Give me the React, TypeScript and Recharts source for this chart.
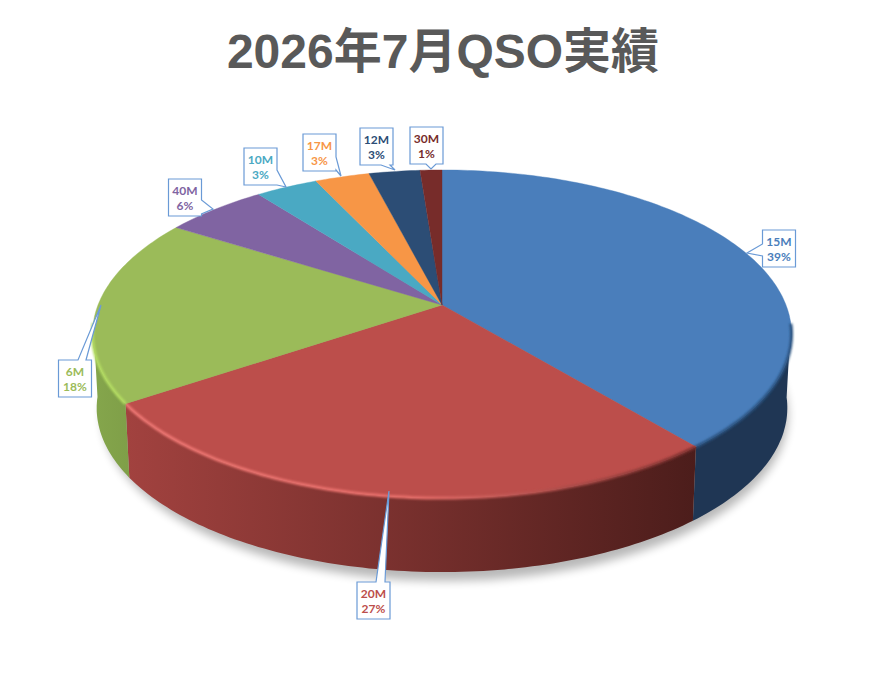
import React from "react";
import { PieChart, Pie } from "recharts";

// band names and share of QSOs (%), labels round these
const bands = ["15M", "20M", "6M", "40M", "10M", "17M", "12M", "30M"];
const shares = [39, 26.55, 18.4, 5.65, 3.4, 3.0, 2.8, 1.2];

const topColors = ["#4a7ebb", "#bc4e4b", "#9bbb59", "#8064a2", "#4aa9c3", "#f79646", "#2c4d75", "#772c2a"];
const wallStops = [
  ["#1f3654", "#1f3654"],
  ["#a2423f", "#4c1d1b"],
  ["#85a64c", "#7f9f48"],
];
const rimStops = [
  ["#2b5280", "#2b5280", "#2b5280"],
  ["#ee7773", "#e86f6b", "#7a2f2d"],
  ["#b4dd62", "#b4dd62", "#b4dd62"],
];

// callouts were placed by hand in the original chart
type Callout = {
  x: number;
  y: number;
  tip: [number, number];
  side: "top" | "right" | "bottom" | "left";
  base: [number, number];
};
const BOX_W = 33;
const BOX_H = 37;
const callouts: Callout[] = [
  { x: 762.5, y: 230, tip: [747, 253], side: "left", base: [244, 256] },
  { x: 357, y: 582, tip: [389, 491], side: "top", base: [376, 385] },
  { x: 58.5, y: 360, tip: [101, 305], side: "top", base: [78, 86] },
  { x: 168.5, y: 179, tip: [213, 209], side: "right", base: [200, 214] },
  { x: 244, y: 148, tip: [286, 187], side: "right", base: [170, 185] },
  { x: 303, y: 134, tip: [341, 176], side: "right", base: [157, 170] },
  { x: 360, y: 128, tip: [395, 170], side: "bottom", base: [381, 390] },
  { x: 410, y: 127, tip: [431, 169], side: "bottom", base: [426, 436] },
];

const rows = bands.map((name, i) => ({ name, value: shares[i], fill: topColors[i] }));

// perspective of the tilted disc
const TILT = -0.177;
const FLATTEN = 0.462;

function project(cx: number, cy: number, r: number, deg: number) {
  const a = (deg * Math.PI) / 180;
  const u = Math.cos(a);
  const v = -Math.sin(a);
  const d = 1 + TILT * v;
  return { x: cx + (r * u) / d, y: cy + (r * FLATTEN * v) / d, v };
}

function sample(cx: number, cy: number, r: number, start: number, end: number) {
  const pts = [];
  const n = Math.max(2, Math.ceil(Math.abs(end - start)));
  for (let i = 0; i <= n; i++) pts.push(project(cx, cy, r, start + ((end - start) * i) / n));
  return pts;
}

const toPath = (pts: { x: number; y: number }[]) =>
  pts.map((p, i) => `${i ? "L" : "M"}${p.x.toFixed(1)} ${p.y.toFixed(1)}`).join(" ");

function Slice3D(props: any) {
  const { cx, cy, outerRadius: r, startAngle, endAngle, fill, index } = props;
  const rim = sample(cx, cy, r, startAngle, endAngle);
  const front = rim.filter((p) => p.v >= 0.1);
  const depth = r * 0.215;
  const low = front.map((p) => ({ x: cx + (p.x - cx) * 0.988, y: p.y + depth })).reverse();
  const id = `wall-${index}`;
  const stops = wallStops[index];
  const rimStop = rimStops[index];
  return (
    <g>
      {front.length > 1 && stops && (
        <>
          <defs>
            <linearGradient id={id} x1="0" y1="0" x2="1" y2="0">
              <stop offset="0" stopColor={stops[0]} />
              <stop offset="1" stopColor={stops[1]} />
            </linearGradient>
            <linearGradient id={`${id}-rim`} x1="0" y1="0" x2="1" y2="0">
              <stop offset="0" stopColor={rimStop[0]} />
              <stop offset="0.5" stopColor={rimStop[1]} />
              <stop offset="1" stopColor={rimStop[2]} />
            </linearGradient>
            <filter id={`${id}-blur`} x="-5%" y="-5%" width="110%" height="110%">
              <feGaussianBlur stdDeviation="1.3" />
            </filter>
          </defs>
          <path d={`${toPath(front)} ${toPath(low).replace("M", "L")} Z`} fill={`url(#${id})`} />
        </>
      )}
      <path d={`M${cx} ${cy} ${toPath(rim).replace("M", "L")} Z`} fill={fill} stroke={fill} strokeWidth={0.4} />
      {front.length > 1 && stops && (
        <path d={toPath(front)} fill="none" stroke={`url(#${id}-rim)`} strokeWidth={3} filter={`url(#${id}-blur)`} />
      )}
    </g>
  );
}

function calloutPath(c: Callout) {
  const l = c.x;
  const t = c.y;
  const rt = c.x + BOX_W;
  const b = c.y + BOX_H;
  const [p, q] = c.base;
  const tip = `L${c.tip[0]} ${c.tip[1]}`;
  if (c.side === "top") return `M${l} ${t} L${p} ${t} ${tip} L${q} ${t} L${rt} ${t} L${rt} ${b} L${l} ${b} Z`;
  if (c.side === "right") return `M${l} ${t} L${rt} ${t} L${rt} ${p} ${tip} L${rt} ${q} L${rt} ${b} L${l} ${b} Z`;
  if (c.side === "bottom") return `M${l} ${t} L${rt} ${t} L${rt} ${b} L${q} ${b} ${tip} L${p} ${b} L${l} ${b} Z`;
  return `M${l} ${t} L${rt} ${t} L${rt} ${b} L${l} ${b} L${l} ${q} ${tip} L${l} ${p} Z`;
}

function CalloutLabel(props: any) {
  const { index, name, percent, fill } = props;
  const c = callouts[index];
  const mid = c.x + BOX_W / 2;
  return (
    <g>
      <path d={calloutPath(c)} fill="#fff" stroke="#6a9ad6" strokeWidth={1.2} />
      <text x={mid} y={c.y + 16} textAnchor="middle" fontFamily="Lato" fontWeight={700} fontSize={12} fill={fill}>
        {name}
      </text>
      <text x={mid} y={c.y + 31} textAnchor="middle" fontFamily="Lato" fontWeight={700} fontSize={12} fill={fill}>
        {Math.round(percent * 100)}%
      </text>
    </g>
  );
}

export default function App() {
  return (
    <div style={{ position: "absolute", left: 0, top: 0, width: 886, height: 675, background: "#fff" }}>
      <PieChart width={886} height={675} margin={{ top: 0, right: 0, bottom: 0, left: 0 }}>
        <defs>
          <filter id="floor-blur" x="-10%" y="-10%" width="120%" height="120%">
            <feGaussianBlur stdDeviation="5" />
          </filter>
        </defs>
        <text
          x={443}
          y={68}
          textAnchor="middle"
          fontFamily="'Liberation Sans', 'Noto Sans CJK JP'"
          fontWeight={700}
          fontSize={48}
          fill="#595959"
        >
          2026年7月QSO実績
        </text>
        <ellipse cx={445} cy={415} rx={343} ry={166} fill="#000" opacity={0.28} filter="url(#floor-blur)" />
        <Pie
          data={rows}
          dataKey="value"
          nameKey="name"
          cx={442}
          cy={305}
          innerRadius={0}
          outerRadius={344}
          startAngle={90}
          endAngle={-270}
          stroke="none"
          shape={Slice3D}
          label={CalloutLabel}
          labelLine={false}
          isAnimationActive={false}
        />
      </PieChart>
    </div>
  );
}
